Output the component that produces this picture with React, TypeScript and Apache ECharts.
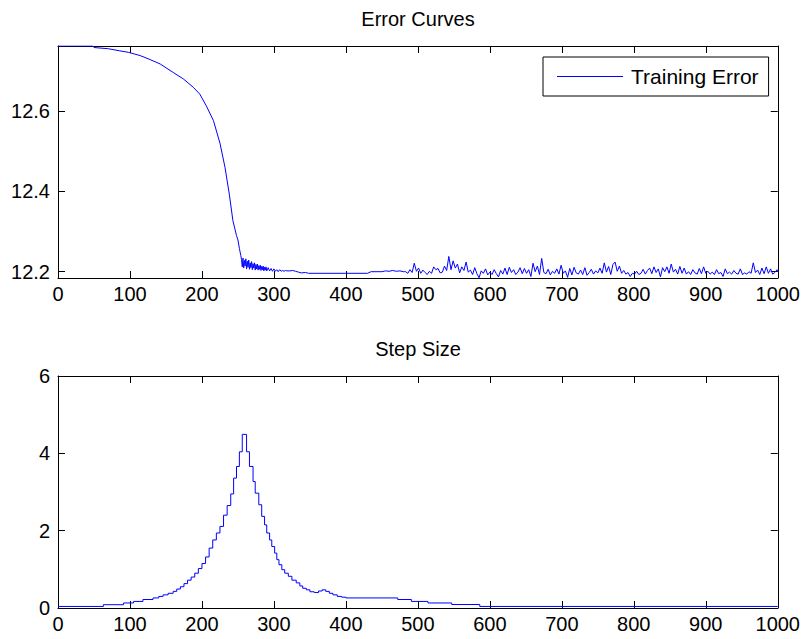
import React, { useEffect, useRef } from 'react';
import * as echarts from 'echarts';

const FONT = '"Liberation Sans", Arial, Helvetica, sans-serif';

// ---- axes ----
const xMin = 0;
const xMax = 1000;
const xInterval = 100;
const errYMin = 12.1843;
const errYMax = 12.7618;
const errTickValues = [12.2, 12.4, 12.6];
const stepYMin = 0;
const stepYMax = 6;
const stepInterval = 2;

// ---- titles / legend ----
const topTitle = 'Error Curves';
const bottomTitle = 'Step Size';
const errSeriesName = 'Training Error';
const stepSeriesName = 'Step Size';

// ---- Training error: smooth descent and the noisy settling band ----
const errSmoothIter = [
  0, 30, 48, 50, 70, 85, 98, 114, 128, 142, 160, 174, 188, 197, 206, 216, 225, 232, 238, 243, 248, 250, 252, 254,
  255, 256, 257, 258, 259, 260, 261, 262, 263, 264, 265, 266, 267, 268, 269, 270, 271, 272, 273, 274, 275, 276,
  277, 278, 279, 280, 281, 282, 283, 284, 285, 286, 287, 288, 289, 290, 292, 294, 296, 298,
  300, 302, 304, 306, 308, 310, 312, 314, 316, 318, 322, 326, 330, 334, 338, 344, 348, 360, 400, 430, 435, 450,
  455, 460, 465, 470, 475, 480,
];
const errSmoothVal = [
  12.762, 12.762, 12.762, 12.758, 12.755, 12.750, 12.746, 12.738, 12.728, 12.717, 12.696, 12.680, 12.659, 12.642,
  12.613, 12.576, 12.520, 12.460, 12.393, 12.327, 12.290, 12.279, 12.258, 12.240,
  12.230, 12.212, 12.234, 12.209, 12.228, 12.214, 12.232, 12.207, 12.226, 12.211, 12.229, 12.206, 12.222, 12.210,
  12.225, 12.205, 12.220, 12.209, 12.222, 12.204, 12.218, 12.207, 12.219, 12.204, 12.215, 12.206, 12.216, 12.203,
  12.213, 12.205, 12.214, 12.202, 12.211, 12.204, 12.212, 12.202, 12.210, 12.202, 12.208, 12.201,
  12.207, 12.201, 12.205, 12.200, 12.205, 12.201, 12.203, 12.201, 12.203, 12.202, 12.202, 12.203, 12.201, 12.199,
  12.197, 12.198, 12.196, 12.196, 12.196, 12.196, 12.200, 12.200,
  12.202, 12.201, 12.203, 12.201, 12.202, 12.200,
];
// noisy tail, one reading every 3 iterations starting at 483
const errNoiseStart = 483;
const errNoiseStep = 3;
const errNoiseVal = [
  12.200, 12.196, 12.205, 12.198, 12.221, 12.201, 12.209, 12.196, 12.204, 12.198,
  12.193, 12.201, 12.196, 12.212, 12.205, 12.208, 12.197, 12.199, 12.214, 12.203,
  12.238, 12.205, 12.227, 12.209, 12.219, 12.197, 12.212, 12.203, 12.224, 12.199,
  12.204, 12.193, 12.210, 12.195, 12.185, 12.202, 12.196, 12.207, 12.192, 12.199,
  12.193, 12.205, 12.195, 12.187, 12.203, 12.194, 12.209, 12.193, 12.211, 12.198,
  12.205, 12.193, 12.199, 12.210, 12.195, 12.208, 12.196, 12.205, 12.188, 12.221,
  12.200, 12.214, 12.193, 12.233, 12.198, 12.195, 12.206, 12.192, 12.201, 12.196,
  12.207, 12.194, 12.216, 12.196, 12.202, 12.186, 12.208, 12.192, 12.211, 12.197,
  12.194, 12.204, 12.193, 12.210, 12.191, 12.198, 12.206, 12.194, 12.202, 12.197,
  12.209, 12.196, 12.222, 12.199, 12.213, 12.193, 12.218, 12.224, 12.201, 12.214,
  12.196, 12.203, 12.194, 12.198, 12.188, 12.196, 12.194, 12.201, 12.193, 12.196,
  12.206, 12.194, 12.203, 12.209, 12.195, 12.212, 12.198, 12.207, 12.187, 12.210,
  12.200, 12.212, 12.196, 12.219, 12.199, 12.206, 12.194, 12.213, 12.196, 12.209,
  12.194, 12.200, 12.193, 12.205, 12.197, 12.194, 12.208, 12.195, 12.212, 12.196,
  12.201, 12.194, 12.199, 12.193, 12.205, 12.195, 12.198, 12.188, 12.207, 12.195,
  12.199, 12.194, 12.203, 12.196, 12.194, 12.207, 12.193, 12.197, 12.194, 12.200,
  12.196, 12.222, 12.198, 12.204, 12.193, 12.209, 12.195, 12.212, 12.196, 12.207,
  12.194, 12.198, 12.205,
];
const errLastIter = 1000;
const errLastVal = 12.200;

// ---- Step size (staircase) ----
const stepIter = [
  0, 63, 91, 105, 118, 132, 140, 146, 153, 160, 165, 170, 175, 180, 185, 190, 195, 200, 205, 210, 215, 220, 225,
  230, 235, 240, 244, 248, 252, 256, 262, 266, 271, 274, 279, 283, 287, 290, 294, 297, 301, 304, 307, 311, 315,
  320, 325, 331, 336, 340, 345, 350, 356, 362, 367, 372, 377, 382, 388, 394, 400, 472, 491, 514, 547, 586, 1000,
];
const stepVal = [
  0.04, 0.085, 0.13, 0.17, 0.22, 0.26, 0.30, 0.34, 0.38, 0.43, 0.49, 0.55, 0.63, 0.72, 0.80, 0.90, 1.02, 1.15,
  1.32, 1.55, 1.76, 1.94, 2.11, 2.40, 2.65, 2.95, 3.36, 3.66, 4.04, 4.49, 4.04, 3.66, 3.27, 2.97, 2.67, 2.37, 2.15,
  1.94, 1.76, 1.59, 1.42, 1.25, 1.12, 0.99, 0.90, 0.82, 0.72, 0.65, 0.57, 0.51, 0.47, 0.42, 0.40, 0.44, 0.47, 0.43,
  0.38, 0.34, 0.30, 0.28, 0.26, 0.22, 0.17, 0.13, 0.09, 0.04, 0.04,
];

function buildErrData(): number[][] {
  const d: number[][] = errSmoothIter.map((it, i) => [it, errSmoothVal[i]]);
  errNoiseVal.forEach((v, i) => d.push([errNoiseStart + i * errNoiseStep, v]));
  d.push([errLastIter, errLastVal]);
  return d;
}

const BLUE = '#0000ff';
const tickStyle = { inside: true, length: 7, lineStyle: { color: '#000', width: 1 } };
const lineStyle = { lineStyle: { color: '#000', width: 1 } };
const labelStyle = { color: '#000', fontSize: 20, fontFamily: FONT };

function xAxes(gridIndex: number) {
  return [
    {
      type: 'value', gridIndex, position: 'bottom', min: xMin, max: xMax, interval: xInterval,
      axisLine: { show: true, onZero: false, ...lineStyle },
      axisTick: tickStyle,
      axisLabel: { ...labelStyle, margin: 6, formatter: (v: number) => String(v) },
      splitLine: { show: false },
    },
    {
      type: 'value', gridIndex, position: 'top', min: xMin, max: xMax, interval: xInterval,
      axisLine: { show: true, onZero: false, ...lineStyle },
      axisTick: tickStyle,
      axisLabel: { show: false },
      splitLine: { show: false },
    },
  ];
}

export default function App() {
  const ref = useRef<HTMLDivElement>(null);
  useEffect(() => {
    if (!ref.current) return;
    const chart = echarts.init(ref.current, null, { renderer: 'svg' });
    const errData = buildErrData();
    const stepData = stepIter.map((it, i) => [it, stepVal[i]]);
    const grids = [
      { left: 58, top: 46, width: 720, height: 232, containLabel: false },
      { left: 58, top: 376, width: 720, height: 232, containLabel: false },
    ];
    const option: any = {
      animation: false,
      backgroundColor: '#ffffff',
      grid: grids,
      xAxis: [...xAxes(0), ...xAxes(1)],
      yAxis: [
        {
          type: 'value', gridIndex: 0, position: 'left', min: errYMin, max: errYMax,
          axisLine: { show: true, onZero: false, ...lineStyle },
          axisTick: { ...tickStyle, customValues: errTickValues },
          axisLabel: { ...labelStyle, margin: 8, customValues: errTickValues, formatter: (v: number) => v.toFixed(1) },
          splitLine: { show: false },
        },
        {
          type: 'value', gridIndex: 0, position: 'right', min: errYMin, max: errYMax,
          axisLine: { show: true, onZero: false, ...lineStyle },
          axisTick: { ...tickStyle, customValues: errTickValues },
          axisLabel: { show: false },
          splitLine: { show: false },
        },
        {
          type: 'value', gridIndex: 1, position: 'left', min: stepYMin, max: stepYMax, interval: stepInterval,
          axisLine: { show: true, onZero: false, ...lineStyle },
          axisTick: tickStyle,
          axisLabel: { ...labelStyle, margin: 8 },
          splitLine: { show: false },
        },
        {
          type: 'value', gridIndex: 1, position: 'right', min: stepYMin, max: stepYMax, interval: stepInterval,
          axisLine: { show: true, onZero: false, ...lineStyle },
          axisTick: tickStyle,
          axisLabel: { show: false },
          splitLine: { show: false },
        },
      ],
      legend: {
        data: [errSeriesName],
        left: 543, top: 57,
        backgroundColor: '#ffffff', borderColor: '#000', borderWidth: 1, borderRadius: 0,
        padding: [9, 10, 9, 14],
        icon: 'rect', itemWidth: 66, itemHeight: 1,
        textStyle: { ...labelStyle, fontSize: 21, padding: [0, 0, 0, 3] },
        selectedMode: false,
      },
      graphic: [
        { type: 'text', x: 418, y: 9, style: { text: topTitle, font: `20px ${FONT}`, fill: '#000', textAlign: 'center', textVerticalAlign: 'top' } },
        { type: 'text', x: 418, y: 339, style: { text: bottomTitle, font: `20px ${FONT}`, fill: '#000', textAlign: 'center', textVerticalAlign: 'top' } },
      ],
      series: [
        {
          type: 'line', name: errSeriesName, xAxisIndex: 0, yAxisIndex: 0, data: errData,
          symbol: 'none', showSymbol: false, lineStyle: { color: BLUE, width: 1 }, itemStyle: { color: BLUE },
          clip: true,
        },
        {
          type: 'line', name: stepSeriesName, xAxisIndex: 2, yAxisIndex: 2, data: stepData, step: 'end',
          symbol: 'none', showSymbol: false, lineStyle: { color: BLUE, width: 1 }, itemStyle: { color: BLUE },
          clip: true,
        },
      ],
    };
    chart.setOption(option);
    return () => chart.dispose();
  }, []);
  return (
    <div
      ref={ref}
      style={{ position: 'fixed', left: 0, top: 0, width: 803, height: 639, background: '#fff' }}
    />
  );
}
